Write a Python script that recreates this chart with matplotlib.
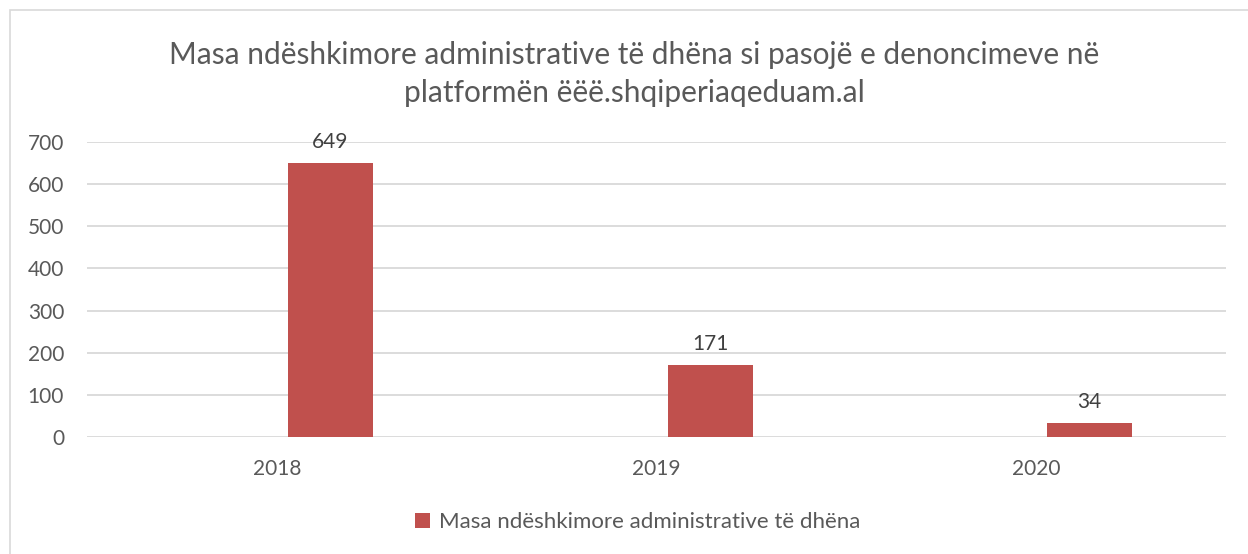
import matplotlib.pyplot as plt
from matplotlib.patches import Rectangle
from matplotlib import font_manager

years = ["2018", "2019", "2020"]
masat = [649, 171, 34]
seria = "Masa ndëshkimore administrative të dhëna"
titulli = "Masa ndëshkimore administrative të dhëna si pasojë e denoncimeve në\nplatformën ëëë.shqiperiaqeduam.al"

names = {f.name for f in font_manager.fontManager.ttflist}
body_font = "Lato" if "Lato" in names else "DejaVu Sans"

plt.rcParams["font.family"] = [body_font, "DejaVu Sans"]
text_col = "#595959"
bar_col = "#C0504D"
grid_col = "#D9D9D9"

fig = plt.figure(figsize=(12.48, 5.54), dpi=100)
ax = fig.add_axes([0.0697, 0.2112, 0.9127, 0.5325])

# chart area border
fig.patches.append(Rectangle((10 / 1248, -0.02), 1.05, 1 - 10 / 554 + 0.02,
                             transform=fig.transFigure, fill=False,
                             edgecolor=grid_col, linewidth=1.2))

xs = range(len(years))
offset, width = 0.141, 0.224
bars = ax.bar([x + offset for x in xs], masat, width=width, color=bar_col,
              label=seria, zorder=3)
for b, v in zip(bars, masat):
    ax.annotate(str(v), (b.get_x() + b.get_width() / 2, v), xytext=(0, 8),
                textcoords="offset points", ha="center", va="bottom",
                fontsize=15, color="#404040")

ax.set_xlim(-0.5, 2.5)
ax.set_ylim(0, 700)
ax.set_yticks(range(0, 701, 100))
ax.set_xticks(list(xs))
ax.set_xticklabels(years)
ax.yaxis.grid(True, color=grid_col, linewidth=1.3, zorder=0)
ax.set_axisbelow(True)
for s in ax.spines.values():
    s.set_visible(False)
ax.tick_params(length=0, labelsize=15, colors=text_col)
ax.tick_params(axis="y", pad=16.5)
ax.tick_params(axis="x", pad=16)

fig.text(0.508, 0.867, titulli, ha="center", va="center", fontsize=21.5,
         color=text_col, linespacing=1.45)

fig.legend(loc="center", bbox_to_anchor=(0.511, 0.057), frameon=False,
           fontsize=16, labelcolor=text_col, handlelength=0.7, handleheight=0.7,
           handletextpad=0.4)

fig.savefig("out.png", dpi=100, facecolor="white")
